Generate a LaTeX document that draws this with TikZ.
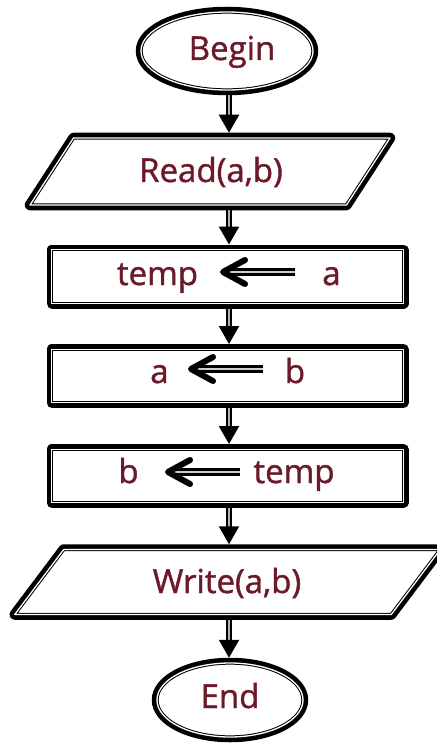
\documentclass[tikz,border=0pt]{standalone}
\usepackage{fontspec}
\setmainfont{Open Sans}
\newfontfamily\lblfont[FakeBold=1.2]{Open Sans}
\usetikzlibrary{shapes.geometric,arrows.meta}
\definecolor{txtc}{RGB}{108,26,42}
\begin{document}
\begin{tikzpicture}[x=1pt,y=-1pt,
  boxline/.style={draw=black, line width=1pt, double=white, double distance=1.3pt, fill=white,
    line join=round,
    preaction={draw=black, line width=10.5pt, line join=round}},
  box/.style={boxline, outer sep=5.25pt, inner sep=0pt},
  term/.style={box, ellipse},
  proc/.style={box, rectangle},
  frame/.style={inner sep=0pt, outer sep=0pt},
  lbl/.style={text=txtc, font=\lblfont\fontsize{33}{40}\selectfont, inner sep=0pt, anchor=base},
  conn/.style={draw=black, line width=2.4pt, double=white!70!black, double distance=1.4pt,
    -{Triangle[length=18pt,width=20pt]}},
  ashaft/.style={draw=black, line width=2.7pt, double=white!80!black, double distance=1.8pt},
  chev/.style={draw=black, line width=6pt, line cap=round, line join=round}
]
\fill[white] (0,0) rectangle (436,746);
\useasboundingbox (0,0) rectangle (436,746);
\coordinate (spine) at (229,0);

% Begin
\node[term, minimum width=172pt, minimum height=78pt] (begin) at (227,51) {};
\node[lbl] (beginT) at (232,60) {Begin};

% Read (parallelogram)
\draw[boxline] (30,205) -- (346.5,205) -- (390,138) -- (73.5,138) -- cycle;
\node[frame, minimum width=370.5pt, minimum height=77.5pt] (read) at (210,171.5) {};
\node[lbl] (readT) at (211,182) {Read(a,b)};

% temp <- a
\node[proc, minimum width=351.5pt, minimum height=53.5pt] (p1) at (227.5,276.5) {};
\node[lbl] (tmpA) at (157.5,285) {temp};
\node[lbl] (aA) at (331.5,285) {a};
\coordinate (tipA) at (223,272);
\coordinate (srcA) at (295,272);

% a <- b
\node[proc, minimum width=351.5pt, minimum height=53.5pt] (p2) at (227.5,376) {};
\node[lbl] (aB) at (159.5,383) {a};
\node[lbl] (bB) at (295,383) {b};
\coordinate (tipB) at (191,369);
\coordinate (srcB) at (263,369);

% b <- temp
\node[proc, minimum width=351.5pt, minimum height=53.5pt] (p3) at (227.5,476) {};
\node[lbl] (bC) at (128.5,483) {b};
\node[lbl] (tmpC) at (294,483) {temp};
\coordinate (tipC) at (168,472);
\coordinate (srcC) at (240,472);

% Write (parallelogram)
\draw[boxline] (14.75,614.5) -- (391.25,614.5) -- (440.25,549.5) -- (63.75,549.5) -- cycle;
\node[frame, minimum width=436pt, minimum height=75.5pt] (write) at (227.5,582) {};
\node[lbl] (writeT) at (227,593) {Write(a,b)};

% End
\node[term, minimum width=146pt, minimum height=74pt] (stop) at (230,700) {};
\node[lbl] (stopT) at (230,708) {End};

% assignment arrows
\foreach \s/\t in {srcA/tipA, srcB/tipB, srcC/tipC}{
  \draw[ashaft] (\s) -- ([xshift=4pt]\t);
  \draw[chev] ([shift={(22,-12)}]\t) -- (\t) -- ([shift={(22,12)}]\t);
}

% connectors
\draw[conn] (begin.south -| spine) -- (read.north -| spine);
\draw[conn] (read.south -| spine) -- (p1.north -| spine);
\draw[conn] (p1.south -| spine) -- (p2.north -| spine);
\draw[conn] (p2.south -| spine) -- (p3.north -| spine);
\draw[conn] (p3.south -| spine) -- (write.north -| spine);
\draw[conn] (write.south -| spine) -- (stop.north -| spine);
\end{tikzpicture}
\end{document}
